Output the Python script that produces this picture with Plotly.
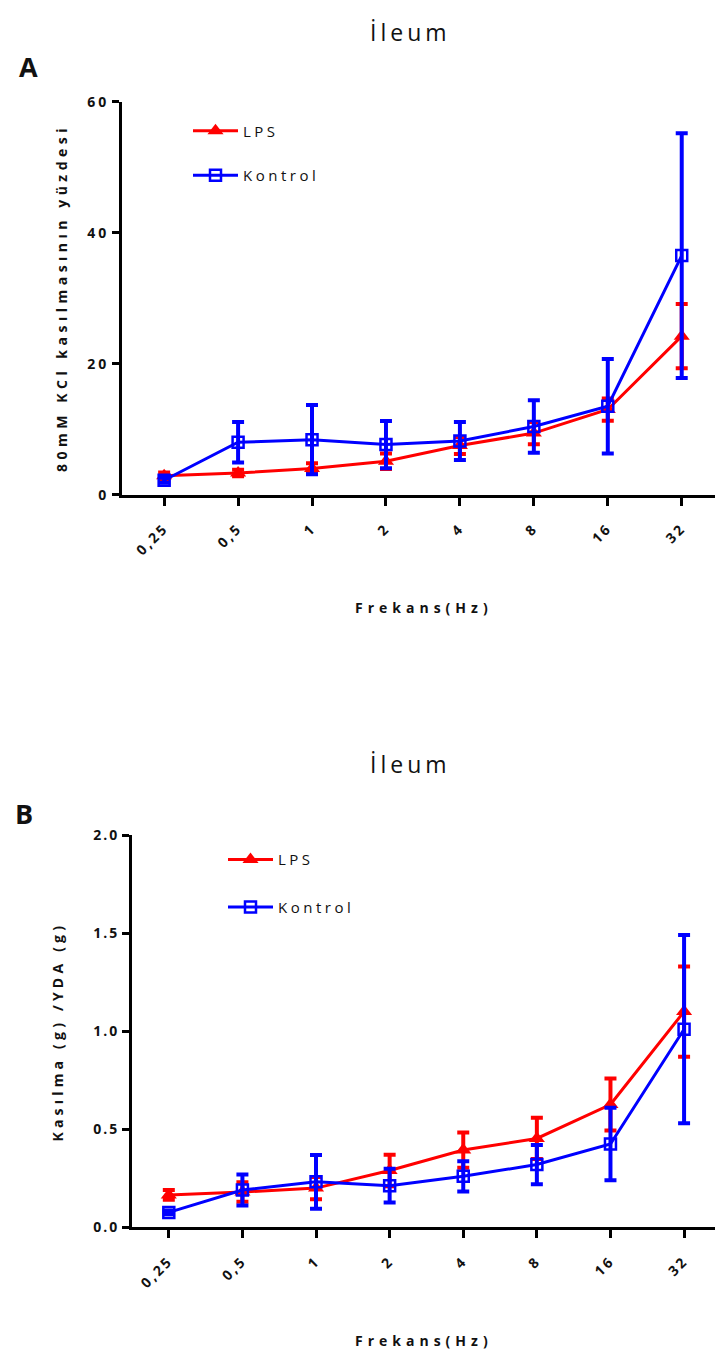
import plotly.graph_objects as go

# Stimulation frequencies (category labels)
freq_labels = ["0,25", "0,5", "1", "2", "4", "8", "16", "32"]

# Panel A: contraction as % of 80 mM KCl response (mean, SEM)
lps_pct = [2.9, 3.3, 4.0, 5.1, 7.5, 9.4, 13.0, 24.2]
lps_pct_sem = [0.5, 0.5, 0.8, 1.2, 1.3, 1.7, 1.7, 4.9]
kontrol_pct = [2.2, 8.0, 8.4, 7.65, 8.2, 10.4, 13.5, 36.5]
kontrol_pct_sem = [0.4, 3.1, 5.3, 3.6, 2.9, 4.0, 7.2, 18.7]

# Panel B: contraction (g) / wet tissue weight (g) (mean, SEM)
lps_ratio = [0.165, 0.18, 0.20, 0.29, 0.394, 0.453, 0.626, 1.10]
lps_ratio_sem = [0.025, 0.05, 0.057, 0.08, 0.09, 0.105, 0.133, 0.23]
kontrol_ratio = [0.076, 0.19, 0.232, 0.212, 0.26, 0.32, 0.425, 1.01]
kontrol_ratio_sem = [0.01, 0.079, 0.137, 0.086, 0.077, 0.10, 0.185, 0.48]

# y tick labels
pct_ticks = [0, 20, 40, 60]
ratio_ticks = [0.0, 0.5, 1.0, 1.5, 2.0]

W, H = 715, 1365
RED = "#ff0000"
BLUE = "#0000ff"
FONT = "Open Sans"


def spaced(text, px):
    """Wrap text in a span with extra letter spacing."""
    return f'<span style="letter-spacing:{px}px">{text}</span>'


def px_x(x):
    return x / W


def px_y(y):
    return 1 - y / H


def add_series(fig, y, err, name, color, symbol, xa, ya, legend):
    is_open = symbol.endswith("open")
    fig.add_trace(go.Scatter(
        x=freq_labels, y=y, name=spaced(name, 3.5), mode="lines+markers",
        xaxis=xa, yaxis=ya, legend=legend, legendgroup=legend + name,
        line=dict(color=color, width=3),
        marker=dict(symbol=symbol, size=11 if is_open else 14, color=color,
                    line=dict(color=color, width=2.5 if is_open else 0)),
        error_y=dict(type="data", array=err, visible=True, color=color,
                     thickness=4, width=6),
    ))


fig = go.Figure()
add_series(fig, lps_pct, lps_pct_sem, "LPS", RED, "triangle-up", "x", "y", "legend")
add_series(fig, kontrol_pct, kontrol_pct_sem, "Kontrol", BLUE, "square-open", "x", "y", "legend")
add_series(fig, lps_ratio, lps_ratio_sem, "LPS", RED, "triangle-up", "x2", "y2", "legend2")
add_series(fig, kontrol_ratio, kontrol_ratio_sem, "Kontrol", BLUE, "square-open", "x2", "y2", "legend2")

tick_font = dict(family=FONT, size=14, color="#111", weight="bold")

common_x = dict(
    type="category", showline=True, linecolor="black", linewidth=3,
    ticks="outside", ticklen=8, tickwidth=3, tickcolor="black",
    tickangle=-45, tickfont=tick_font, showgrid=False, zeroline=False,
    ticklabelstandoff=9,
    tickmode="array", tickvals=freq_labels,
    ticktext=[spaced(t, 2.5) for t in freq_labels],
)
common_y = dict(
    showline=True, linecolor="black", linewidth=3,
    ticks="outside", ticklen=7, tickwidth=3, tickcolor="black",
    tickfont=tick_font, showgrid=False, zeroline=False, tickmode="array",
)

legend_font = dict(family=FONT, size=15, color="#111")

fig.update_layout(
    width=W, height=H, margin=dict(l=0, r=0, t=0, b=0),
    paper_bgcolor="white", plot_bgcolor="white",
    font=dict(family=FONT, color="#111"),
    xaxis=dict(common_x, domain=[px_x(122), 1.0], range=[-0.57, 7.45], anchor="y"),
    yaxis=dict(common_y, domain=[px_y(491.5), px_y(93)], range=[0, 60],
               tickvals=pct_ticks,
               ticktext=[spaced(str(v), 3) for v in pct_ticks], anchor="x"),
    xaxis2=dict(common_x, domain=[px_x(132), 1.0], range=[-0.5, 7.42], anchor="y2"),
    yaxis2=dict(common_y, domain=[px_y(1234.5), px_y(836.7)], range=[0, 2.0],
                tickvals=ratio_ticks,
                ticktext=[spaced(f"{v:.1f}", 2) for v in ratio_ticks], anchor="x2"),
    legend=dict(x=px_x(188), y=px_y(106), xanchor="left", yanchor="top",
                bgcolor="rgba(0,0,0,0)", font=legend_font,
                tracegroupgap=22, itemwidth=45),
    legend2=dict(x=px_x(223), y=px_y(845), xanchor="left", yanchor="top",
                 bgcolor="rgba(0,0,0,0)", font=legend_font,
                 tracegroupgap=25, itemwidth=45),
)

title_font = dict(family="Liberation Sans Narrow, Arial Narrow, Open Sans", size=23, color="#111")
label_font = dict(family=FONT, size=27, color="#111", weight="bold")
axis_title_font = dict(family=FONT, size=14, color="#111", weight="bold")

annotations = [
    # panel titles
    dict(text=spaced("İleum", 4), x=px_x(410), y=px_y(22), font=title_font),
    dict(text=spaced("İleum", 4), x=px_x(410), y=px_y(765), font=title_font),
    # panel letters
    dict(text="A", x=px_x(28), y=px_y(57), font=label_font),
    dict(text="B", x=px_x(24), y=px_y(815), font=label_font),
    # axis titles
    dict(text=spaced("80mM KCl kasılmasının yüzdesi", 4.5), x=px_x(62), y=px_y(292),
         textangle=-90, font=axis_title_font),
    dict(text=spaced("Frekans(Hz)", 5), x=px_x(424), y=px_y(606), font=axis_title_font),
    dict(text=spaced("Kasılma (g) /YDA (g)", 4.2), x=px_x(58), y=px_y(1036),
         textangle=-90, font=axis_title_font),
    dict(text=spaced("Frekans(Hz)", 5), x=px_x(424), y=px_y(1349), font=axis_title_font),
]
for a in annotations:
    a.update(xref="paper", yref="paper", showarrow=False,
             xanchor="center", yanchor="middle")
fig.update_layout(annotations=annotations)

fig.write_html("out.html")
